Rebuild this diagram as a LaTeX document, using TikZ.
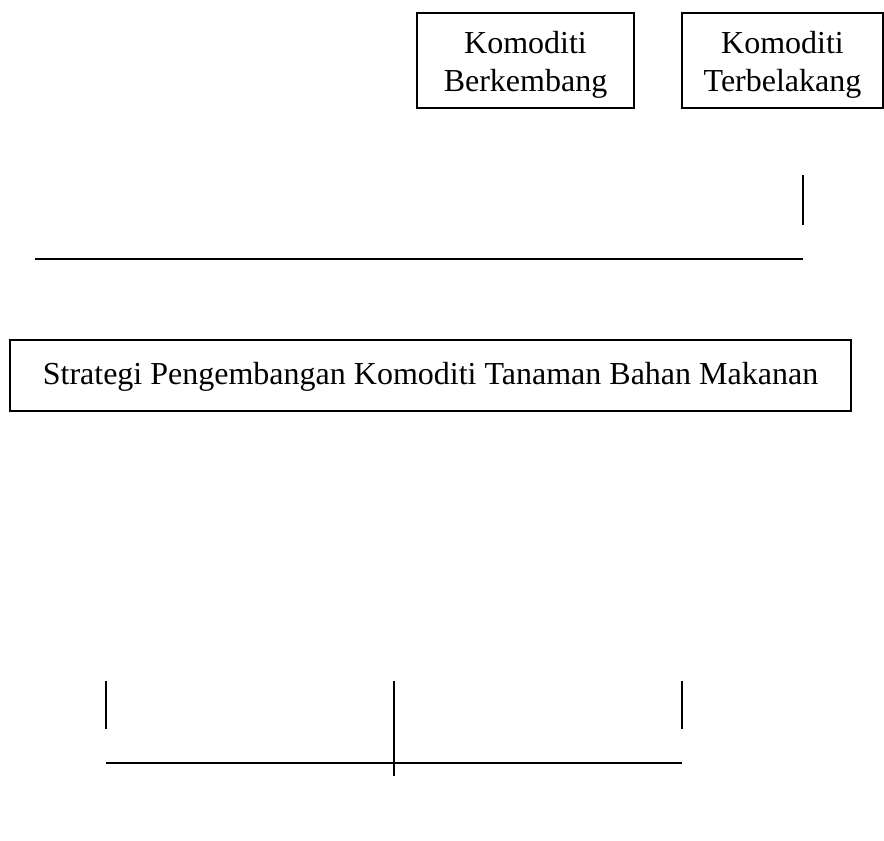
\documentclass[tikz,border=0pt]{standalone}
\usepackage{fontspec}
\setmainfont{Liberation Serif}
\begin{document}
\begin{tikzpicture}[x=1pt,y=-1pt,
  boxstyle/.style={draw=black, line width=1.3pt, align=center, inner sep=0pt},
  txtstyle/.style={align=center, font=\fontsize{32}{38}\selectfont},
  linestyle/.style={draw=black, line width=1.3pt}]
\useasboundingbox (0,0) rectangle (884,841);
% top boxes
\node[boxstyle, minimum width=217pt, minimum height=95pt,
  label={[txtstyle, yshift=-4pt]center:Komoditi\\Berkembang}] (berk) at (525.5,60.5) {};
\node[boxstyle, minimum width=201pt, minimum height=95pt,
  label={[txtstyle, yshift=-4pt]center:Komoditi\\Terbelakang}] (terb) at (782.5,60.5) {};
% main box
\node[boxstyle, minimum width=841pt, minimum height=71pt,
  label={[txtstyle, yshift=-1pt]center:Strategi Pengembangan Komoditi Tanaman Bahan Makanan}] (strat) at (430.5,375.5) {};
% upper lines
\coordinate (v1a) at (803,175);
\coordinate (v1b) at (803,225);
\coordinate (h1a) at (35,259);
\coordinate (h1b) at (803,259);
\draw[linestyle] (v1a) -- (v1b);
\draw[linestyle] (h1a) -- (h1b);
% lower lines
\coordinate (la) at (106,681);
\coordinate (lb) at (106,729);
\coordinate (ma) at (394,681);
\coordinate (mb) at (394,776);
\coordinate (ra) at (682,681);
\coordinate (rb) at (682,729);
\coordinate (ha) at (106,763);
\coordinate (hb) at (682,763);
\draw[linestyle] (la) -- (lb);
\draw[linestyle] (ma) -- (mb);
\draw[linestyle] (ra) -- (rb);
\draw[linestyle] (ha) -- (hb);
\end{tikzpicture}
\end{document}
